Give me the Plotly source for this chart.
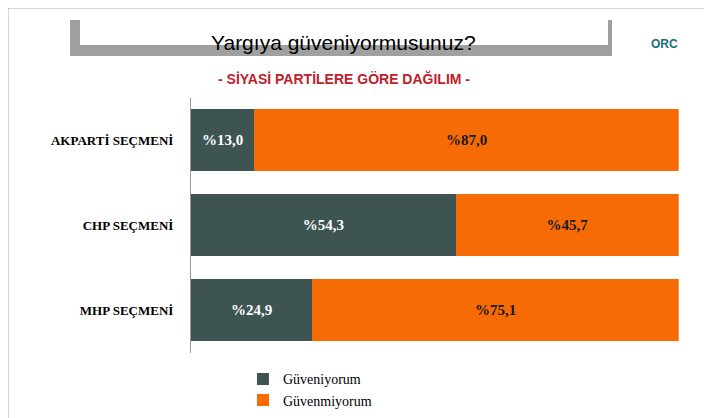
import plotly.graph_objects as go

categories = ["AKPARTİ SEÇMENİ", "CHP SEÇMENİ", "MHP SEÇMENİ"]
guveniyorum = [13.0, 54.3, 24.9]
guvenmiyorum = [87.0, 45.7, 75.1]

def fmt(v):
    return "<b>%" + ("%.1f" % v).replace(".", ",") + "</b>"

serif = "Liberation Serif, DejaVu Serif, serif"
fig = go.Figure()
fig.add_trace(go.Bar(y=categories, x=guveniyorum, orientation="h", name="Güveniyorum",
                     marker=dict(color="#3e5452", line=dict(width=0)), width=0.73,
                     text=[fmt(v) for v in guveniyorum], textposition="inside",
                     insidetextanchor="middle", textfont=dict(color="white", size=15, family=serif)))
fig.add_trace(go.Bar(y=categories, x=guvenmiyorum, orientation="h", name="Güvenmiyorum",
                     marker=dict(color="#f76b06", line=dict(width=0)), width=0.73,
                     text=[fmt(v) for v in guvenmiyorum], textposition="inside",
                     insidetextanchor="middle", textfont=dict(color="#1a1a1a", size=15, family=serif)))

fig.update_layout(
    width=712, height=418, barmode="stack", bargap=0.27,
    margin=dict(l=0, r=0, t=0, b=0, autoexpand=False),
    paper_bgcolor="white", plot_bgcolor="white",
    font=dict(family=serif),
    xaxis=dict(domain=[0.257, 0.942], range=[0, 100], visible=False),
    yaxis=dict(domain=[0.175, 0.785], autorange="reversed", showline=True, linecolor="#999",
               ticks="", ticklabelstandoff=14, automargin=False,
               tickfont=dict(family=serif, size=13, color="black"),
               tickvals=categories, ticktext=["<b>%s</b>" % c for c in categories]),
    legend=dict(x=0.33, y=0.15, xanchor="left", yanchor="top", traceorder="normal",
                font=dict(family=serif, size=14, color="black"), itemwidth=30,
                tracegroupgap=4),
    showlegend=True,
    uniformtext=dict(mode="show", minsize=10),
)
# title box with shadow
fig.add_shape(type="rect", xref="paper", yref="paper", x0=62/712, x1=604/712, y0=1-48/418, y1=1-12/418,
              fillcolor="#a0a0a0", line_width=0, layer="below")
fig.add_shape(type="rect", xref="paper", yref="paper", x0=72/712, x1=600/712, y0=1-37/418, y1=1-6/418,
              fillcolor="white", line_width=0, layer="below")
fig.add_shape(type="rect", xref="paper", yref="paper", x0=0, x1=1, y0=0, y1=1,
              line=dict(color="#aaaaaa", width=1), fillcolor="rgba(0,0,0,0)")
fig.add_annotation(x=335/712, y=1-21/418, xref="paper", yref="paper", showarrow=False,
                   text="Yargıya güveniyormusunuz?",
                   font=dict(family="Liberation Sans Narrow, Liberation Sans, sans-serif", size=21, color="black"))
fig.add_annotation(x=336/712, y=1-60/418, xref="paper", yref="paper", showarrow=False,
                   text="<b>- SİYASİ PARTİLERE GÖRE DAĞILIM -</b>",
                   font=dict(family="Liberation Sans Narrow, Liberation Sans, sans-serif", size=14, color="#c0202a"))
fig.add_annotation(x=672/712, y=1-27/418, xref="paper", yref="paper", showarrow=False,
                   text="<b>ORC</b>", font=dict(family="Liberation Sans", size=12, color="#1b6e78"))
fig.write_html("out.html")
